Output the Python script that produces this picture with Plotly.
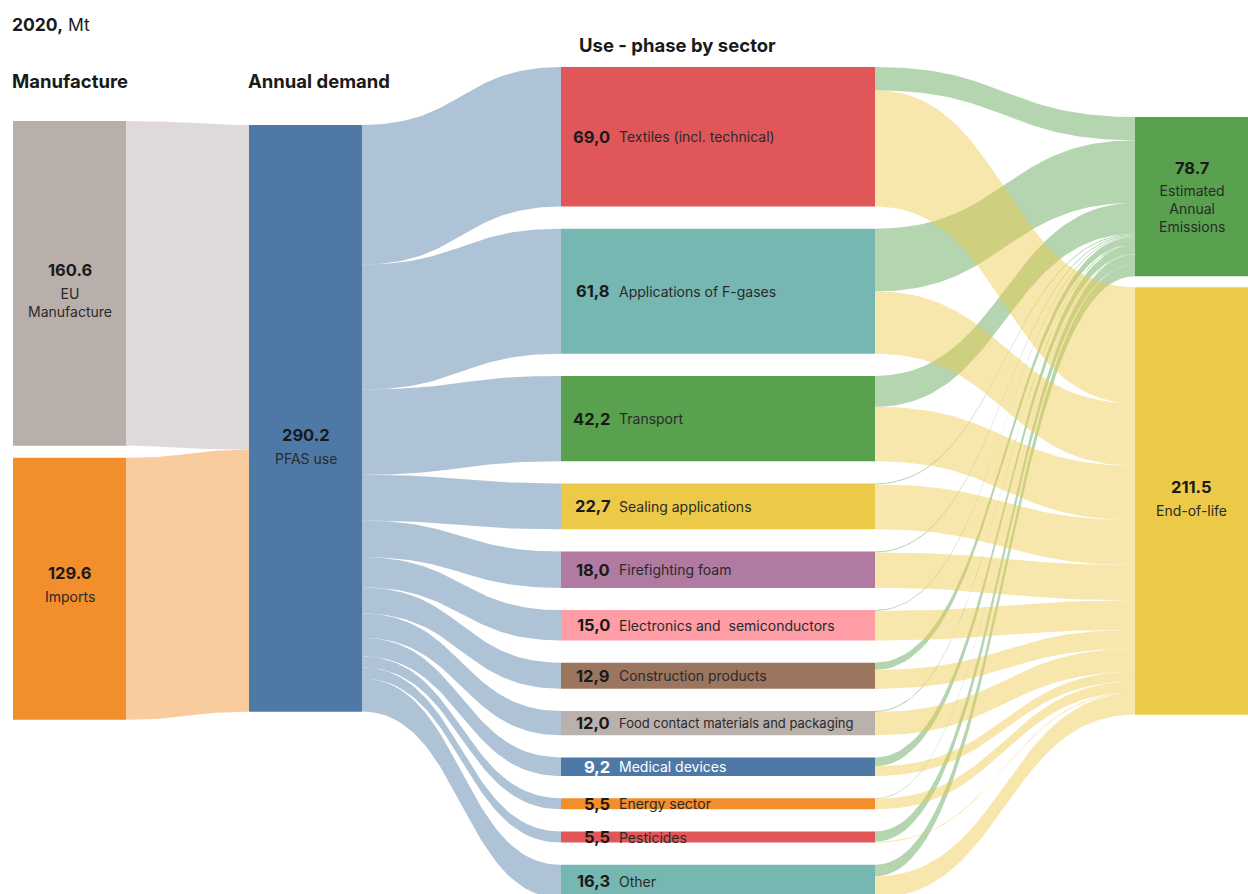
import numpy as np
import plotly.graph_objects as go

# ---- data (Mt, 2020) ----
manufacture_names = ["EU<br>Manufacture", "Imports"]
manufacture_values = [160.6, 129.6]

demand_name = "PFAS use"
demand_value = 290.2

sector_names = [
    "Textiles (incl. technical)", "Applications of F-gases", "Transport",
    "Sealing applications", "Firefighting foam", "Electronics and  semiconductors",
    "Construction products", "Food contact materials and packaging",
    "Medical devices", "Energy sector", "Pesticides", "Other",
]
sector_values = [69.0, 61.8, 42.2, 22.7, 18.0, 15.0, 12.9, 12.0, 9.2, 5.5, 5.5, 16.3]
sector_emissions = [11.5, 31.0, 15.3, 0.5, 0.5, 0.4, 3.6, 0.5, 4.4, 0.3, 5.0, 5.7]
sector_end_of_life = [round(v - e, 1) for v, e in zip(sector_values, sector_emissions)]

end_names = ["Estimated<br>Annual<br>Emissions", "End-of-life"]
end_values = [78.7, 211.5]

# ---- styling ----
manufacture_colors = ["#b8aeaa", "#f28e2b"]
demand_color = "#4e79a7"
sector_colors = ["#e15759", "#76b7b2", "#59a14f", "#edc948", "#b07aa1", "#ff9da7",
                 "#9c755f", "#bab0ac", "#4e79a7", "#f28e2b", "#e15759", "#76b7b2"]
sector_text_colors = ["#1a1a1a"] * 8 + ["#ffffff"] + ["#1a1a1a"] * 3
sector_name_sizes = [14] * 7 + [13] + [14] * 4
end_colors = ["#59a14f", "#edc948"]
LINK_ALPHA = 0.45
FONT = "Inter, Lato, 'DejaVu Sans', sans-serif"

W, H = 1248, 894
K = 2.022                     # pixels per Mt on the vertical axis
Y_MAX = H / K

# column x extents
COL_MAN = (13, 126)
COL_DEM = (249, 362)
COL_SEC = (561, 875)
COL_END = (1135, 1248)

# column tops and gaps (Mt units)
TOP_MAN, GAP_MAN = 121 / K, 12 / K
TOP_DEM = 125 / K
TOP_SEC, GAP_SEC = 67 / K, 22.2 / K
TOP_END, GAP_END = 117 / K, 11 / K


def stack(values, top, gap):
    out, y = [], top
    for v in values:
        out.append((y, y + v))
        y += v + gap
    return out


def rgba(hex_color, a):
    h = hex_color.lstrip("#")
    r, g, b = int(h[0:2], 16), int(h[2:4], 16), int(h[4:6], 16)
    return f"rgba({r},{g},{b},{a})"


def bez(p0, p1, p2, p3, t):
    return (1 - t) ** 3 * p0 + 3 * (1 - t) ** 2 * t * p1 + 3 * (1 - t) * t ** 2 * p2 + t ** 3 * p3


def ribbon(x0, y0a, y0b, x1, y1a, y1b, color, n=60):
    xm = (x0 + x1) / 2
    t = np.linspace(0, 1, n)
    xs = bez(x0, xm, xm, x1, t)
    top = bez(y0a, y0a, y1a, y1a, t)
    bot = bez(y0b, y0b, y1b, y1b, t)
    X = np.concatenate([xs, xs[::-1], xs[:1]])
    Y = np.concatenate([top, bot[::-1], top[:1]])
    return go.Scatter(x=X, y=Y, mode="lines", fill="toself", fillcolor=color,
                      line=dict(width=0), hoverinfo="skip", showlegend=False)


def rect(x0, x1, y0, y1, color):
    return go.Scatter(x=[x0, x1, x1, x0, x0], y=[y0, y0, y1, y1, y0], mode="lines",
                      fill="toself", fillcolor=color, line=dict(width=0),
                      hoverinfo="skip", showlegend=False)


man_pos = stack(manufacture_values, TOP_MAN, GAP_MAN)
dem_pos = (TOP_DEM, TOP_DEM + demand_value)
sec_pos = stack(sector_values, TOP_SEC, GAP_SEC)
end_pos = stack(end_values, TOP_END, GAP_END)

traces = []

# manufacture -> demand
y_in = dem_pos[0]
for (a, b), v, c in zip(man_pos, manufacture_values, manufacture_colors):
    traces.append(ribbon(COL_MAN[1], a, b, COL_DEM[0], y_in, y_in + v, rgba(c, LINK_ALPHA)))
    y_in += v

# demand -> sectors
y_out = dem_pos[0]
for (a, b), v in zip(sec_pos, sector_values):
    traces.append(ribbon(COL_DEM[1], y_out, y_out + v, COL_SEC[0], a, b, rgba(demand_color, LINK_ALPHA)))
    y_out += v

# sectors -> emissions (drawn first), then sectors -> end-of-life on top
em_y = end_pos[0][0]
eol_y = end_pos[1][0]
green_links, yellow_links = [], []
for (a, b), e, r in zip(sec_pos, sector_emissions, sector_end_of_life):
    green_links.append(ribbon(COL_SEC[1], a, a + e, COL_END[0], em_y, em_y + e, rgba(end_colors[0], LINK_ALPHA)))
    yellow_links.append(ribbon(COL_SEC[1], a + e, a + e + r, COL_END[0], eol_y, eol_y + r, rgba(end_colors[1], LINK_ALPHA)))
    em_y += e
    eol_y += r
traces += green_links + yellow_links

# nodes
for (a, b), c in zip(man_pos, manufacture_colors):
    traces.append(rect(*COL_MAN, a, b, c))
traces.append(rect(*COL_DEM, *dem_pos, demand_color))
for (a, b), c in zip(sec_pos, sector_colors):
    traces.append(rect(*COL_SEC, a, b, c))
for (a, b), c in zip(end_pos, end_colors):
    traces.append(rect(*COL_END, a, b, c))

fig = go.Figure(traces)

ann = []


def block_label(xc, y0, y1, value_text, sub_text, shift_px=0):
    n_lines = sub_text.count("<br>") + 1
    c = (y0 + y1) / 2 + shift_px / K
    block = (18 + 6 + n_lines * 17) / K
    ann.append(dict(x=xc, y=c - block / 2 + 9 / K, text=f"<b>{value_text}</b>",
                    font=dict(size=16.5, color="#1a1a1a", family=FONT),
                    xanchor="center", yanchor="middle", showarrow=False))
    ann.append(dict(x=xc, y=c - block / 2 + (24 + n_lines * 8.5) / K, text=sub_text,
                    font=dict(size=14, color="#2a2a2a", family=FONT),
                    xanchor="center", yanchor="middle", showarrow=False))


for (a, b), v, name, s in zip(man_pos, manufacture_values, manufacture_names, [7, -4]):
    block_label(sum(COL_MAN) / 2, a, b, f"{v:.1f}", name, s)
block_label(sum(COL_DEM) / 2, *dem_pos, f"{demand_value:.1f}", demand_name, 28)
for (a, b), v, name, s in zip(end_pos, end_values, end_names, [0, -2]):
    block_label(sum(COL_END) / 2, a, b, f"{v:.1f}", name, s)

for (a, b), v, name, tc, fs in zip(sec_pos, sector_values, sector_names,
                                   sector_text_colors, sector_name_sizes):
    c = (a + b) / 2
    ann.append(dict(x=COL_SEC[0] + 51, y=c, text=f"<b>{v:.1f}</b>".replace(".", ","),
                    font=dict(size=16.5, color=tc, family=FONT),
                    xanchor="right", yanchor="middle", showarrow=False))
    ann.append(dict(x=COL_SEC[0] + 56, y=c, text=name,
                    font=dict(size=fs, color=tc if tc != "#1a1a1a" else "#2a2a2a", family=FONT),
                    xanchor="left", yanchor="middle", showarrow=False))


# titles
def header(text, x, ypx, anchor="left", size=18.5):
    ann.append(dict(x=x, y=ypx / K, text=text, xanchor=anchor, yanchor="middle",
                    font=dict(size=size, color="#1a1a1a", family=FONT), showarrow=False))


header("<b>2020,</b> Mt", 10, 24, size=17.5)
header("<b>Manufacture</b>", 10, 81)
header("<b>Annual demand</b>", 246, 81)
header("<b>Use - phase by sector</b>", 577, 45)
header("<b>End-of-life</b>", 1250, 86, anchor="right")

fig.update_layout(
    width=W, height=H,
    margin=dict(l=0, r=0, t=0, b=0),
    paper_bgcolor="white", plot_bgcolor="white",
    xaxis=dict(range=[0, W], visible=False, fixedrange=True),
    yaxis=dict(range=[Y_MAX, 0], visible=False, fixedrange=True),
    annotations=ann,
    showlegend=False,
    hovermode=False,
)

fig.write_html("out.html")
